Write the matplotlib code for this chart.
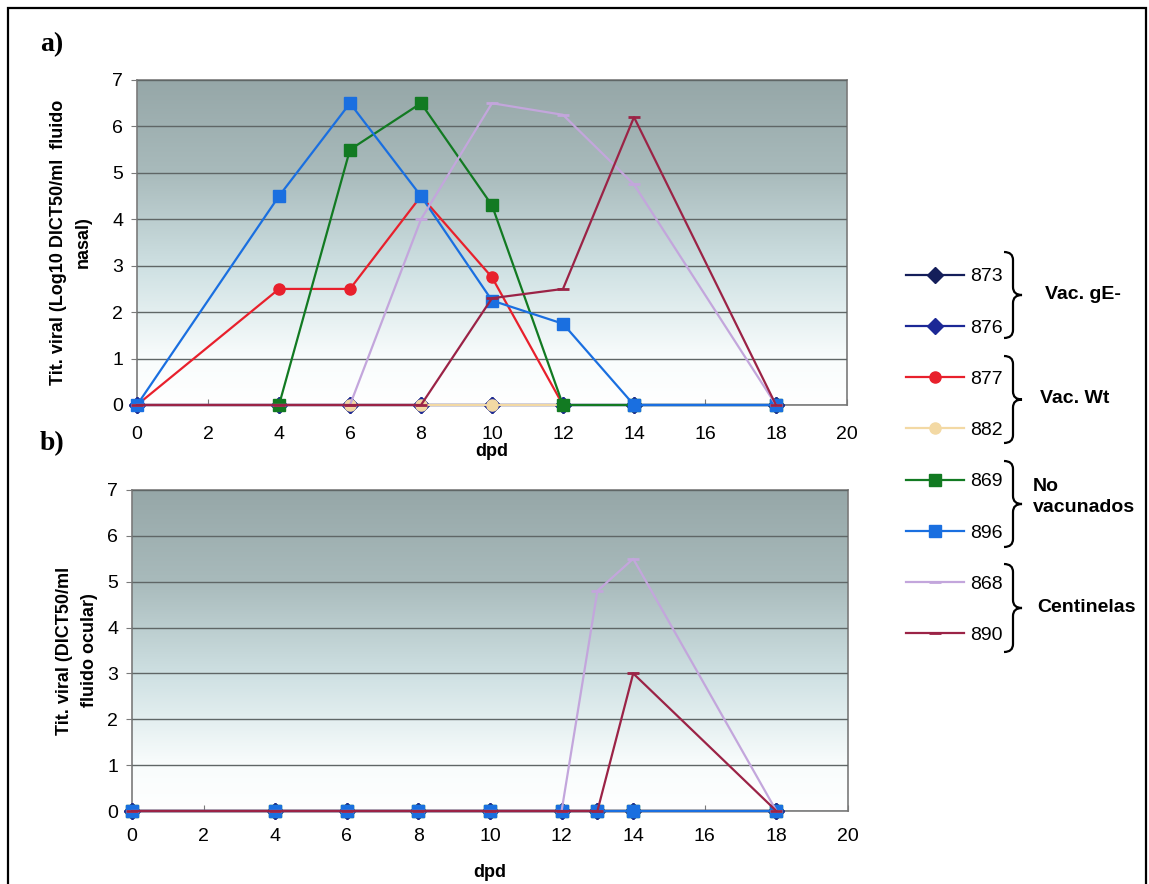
import numpy as np
import matplotlib
matplotlib.use('Agg')
import matplotlib.pyplot as plt
from matplotlib.colors import LinearSegmentedColormap
from matplotlib.path import Path
from matplotlib.patches import PathPatch, Rectangle

plt.rcParams['font.family'] = ['Liberation Sans', 'DejaVu Sans']

nan = np.nan

# dias post desafio
dpd_a = [0, 4, 6, 8, 10, 12, 14, 18]
dpd_b = [0, 4, 6, 8, 10, 12, 13, 14, 18]

animales = ['873', '876', '877', '882', '869', '896', '868', '890']

# a) titulo viral en fluido nasal
nasal_873 = [0, 0, 0, 0, 0, 0, 0, 0]
nasal_876 = [0, 0, 0, 0, 0, 0, 0, 0]
nasal_877 = [0, 2.5, 2.5, 4.5, 2.75, 0, nan, nan]
nasal_882 = [0, 0, 0, 0, 0, 0, nan, nan]
nasal_869 = [nan, 0, 5.5, 6.5, 4.3, 0, 0, 0]
nasal_896 = [0, 4.5, 6.5, 4.5, 2.25, 1.75, 0, 0]
nasal_868 = [0, 0, 0, 4.0, 6.5, 6.25, 4.75, 0]
nasal_890 = [0, 0, 0, 0, 2.3, 2.5, 6.2, 0]

# b) titulo viral en fluido ocular
ocular_873 = [0, 0, 0, 0, 0, 0, 0, 0, 0]
ocular_876 = [0, 0, 0, 0, 0, 0, 0, 0, 0]
ocular_877 = [0, 0, 0, 0, 0, 0, 0, 0, 0]
ocular_882 = [0, 0, 0, 0, 0, 0, 0, 0, 0]
ocular_869 = [0, 0, 0, 0, 0, 0, 0, 0, 0]
ocular_896 = [0, 0, 0, 0, 0, 0, 0, 0, 0]
ocular_868 = [0, 0, 0, 0, 0, 0, 4.8, 5.5, 0]
ocular_890 = [0, 0, 0, 0, 0, 0, 0, 3.0, 0]

grupos = ['Vac. gE-', 'Vac. Wt', 'No\nvacunados', 'Centinelas']

nasal = [nasal_873, nasal_876, nasal_877, nasal_882, nasal_869, nasal_896, nasal_868, nasal_890]
ocular = [ocular_873, ocular_876, ocular_877, ocular_882, ocular_869, ocular_896, ocular_868, ocular_890]

# estilo de cada serie
colores = ['#141e5a', '#1c2896', '#e8202c', '#f3d9a4', '#127a22', '#1a6fe0', '#c3a6dc', '#9b2346']
marcadores = ['D', 'D', 'o', 'o', 's', 's', '_', '_']
tam = [8, 8, 8, 8, 8, 8, 9, 9]

W, H = 1149, 884
fig = plt.figure(figsize=(W / 100, H / 100), dpi=100)


def fx(px):
    return px / W


def fy(py):
    return 1 - py / H


ax_a = fig.add_axes([fx(137), fy(405), fx(847) - fx(137), fy(80) - fy(405)])
ax_b = fig.add_axes([fx(132), fy(811), fx(848) - fx(132), fy(490) - fy(811)])

# degradado de fondo tipo Excel
fondo = LinearSegmentedColormap.from_list(
    'fondo', [(0, '#ffffff'), (0.15, '#f8fcfc'), (0.42, '#cfe1e3'), (0.72, '#a8babb'), (1, '#96a7a8')])
grad = np.linspace(0, 1, 256).reshape(-1, 1)


def dibujar(ax, x, datos, ylabel, pad_x):
    ax.imshow(grad, cmap=fondo, origin='lower', extent=[0, 20, 0, 7], aspect='auto', zorder=0)
    for i, serie in enumerate(datos):
        ax.plot(x, serie, color=colores[i], marker=marcadores[i], markersize=tam[i],
                markeredgewidth=2 if marcadores[i] == '_' else 1, lw=1.6,
                label=animales[i], zorder=3 + i, clip_on=False)
    ax.set_xlim(0, 20)
    ax.set_ylim(0, 7)
    ax.set_xticks(range(0, 21, 2))
    ax.set_yticks(range(0, 8))
    ax.yaxis.grid(True, color='#5f6666', lw=1)
    ax.set_axisbelow(False)
    for g in ax.get_ygridlines():
        g.set_zorder(1)
    for s in ax.spines.values():
        s.set_color('#7a7a7a')
        s.set_linewidth(1.2)
    ax.tick_params(axis='x', direction='in', length=4, color='#7a7a7a', labelsize=14, pad=pad_x)
    ax.tick_params(axis='y', direction='out', length=4, color='#7a7a7a', labelsize=14, pad=6)
    ax.set_xlabel('dpd', fontsize=13, fontweight='bold')
    ax.set_ylabel(ylabel, fontsize=13, fontweight='bold', linespacing=1.55)


dibujar(ax_a, dpd_a, nasal, 'Tit. viral (Log10 DICT50/ml  fluido\nnasal)', 15)
dibujar(ax_b, dpd_b, ocular, 'Tit. viral (DICT50/ml\nfluido ocular)', 12)
ax_a.xaxis.set_label_coords(0.5, -0.118)
ax_b.xaxis.set_label_coords(0.5, -0.165)
ax_a.yaxis.set_label_coords(-0.064, 0.5)
ax_b.yaxis.set_label_coords(-0.048, 0.5)

# marco exterior
fig.add_artist(Rectangle((fx(8), -0.05), fx(1146) - fx(8), fy(8) + 0.05, transform=fig.transFigure,
                         fill=False, ec='black', lw=1.6))

fig.text(fx(40), fy(45), 'a)', family='Liberation Serif', fontweight='bold', fontsize=20, va='center')
fig.text(fx(40), fy(444), 'b)', family='Liberation Serif', fontweight='bold', fontsize=20, va='center')

# leyenda
fig.legend(handles=ax_a.get_lines(), labels=animales, loc='upper left',
           bbox_to_anchor=(fx(896), fy(258)), frameon=False, fontsize=14,
           handlelength=3.0, handletextpad=0.3, labelspacing=1.73, borderpad=0)


def llave(ytop, ybot, x0=1004, w=18):
    xm = x0 + w * 0.5
    xt = x0 + w
    ym = (ytop + ybot) / 2
    r = 8
    pts = [(x0, ytop), (xm, ytop), (xm, ytop + r), (xm, ym - r), (xm, ym), (xt, ym),
           (xm, ym), (xm, ym + r), (xm, ybot - r), (xm, ybot), (x0, ybot)]
    codes = [Path.MOVETO, Path.CURVE3, Path.CURVE3, Path.LINETO, Path.CURVE3, Path.CURVE3,
             Path.CURVE3, Path.CURVE3, Path.LINETO, Path.CURVE3, Path.CURVE3]
    verts = [(fx(p[0]), fy(p[1])) for p in pts]
    fig.add_artist(PathPatch(Path(verts, codes), transform=fig.transFigure,
                             fill=False, ec='black', lw=1.6))


llaves = [(252, 338), (356, 443), (461, 547), (564, 652)]
pos_grupos = [(1045, 295), (1040, 399), (1033, 497), (1037, 608)]
for (yt, yb), g, (gx, gy) in zip(llaves, grupos, pos_grupos):
    llave(yt, yb)
    fig.text(fx(gx), fy(gy), g, fontsize=14, fontweight='bold', va='center', ha='left', linespacing=1.3)

fig.savefig('out.png', dpi=100)
